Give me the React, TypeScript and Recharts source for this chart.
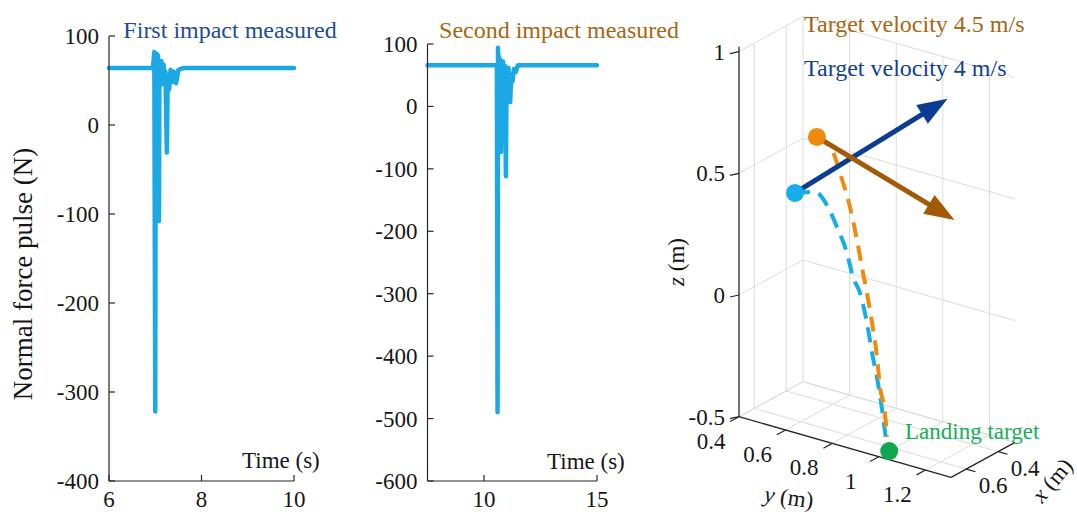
import React from "react";
import { LineChart, ComposedChart, Line, Scatter, XAxis, YAxis } from "recharts";

const FONT = '"Liberation Serif", "Times New Roman", serif';
const AXIS = "#262626";
const TEXT = "#161616";
const PULSE = "#1BA8E4";
const GRID = "#DCDCDC";

// first impact: time (s) and normal force (N)
const time1 = [6, 6.5, 6.95, 6.98, 7.0, 7.01, 7.02, 7.03, 7.05, 7.06, 7.08, 7.09, 7.11, 7.13, 7.15, 7.18, 7.2, 7.22, 7.25, 7.27, 7.3, 7.33, 7.36, 7.4, 7.45, 7.5, 7.6, 8, 9, 10];
const force1 = [64, 64, 64, 82, -322, 75, 40, 80, 50, 78, -108, 70, 45, 72, 50, 68, 45, 60, -31, 55, 40, 62, 48, 60, 47, 62, 64, 64, 64, 64];

// second impact
const time2 = [7.5, 9, 10.5, 10.57, 10.6, 10.62, 10.64, 10.66, 10.69, 10.72, 10.75, 10.78, 10.81, 10.84, 10.88, 10.92, 10.97, 11.0, 11.04, 11.08, 11.12, 11.16, 11.2, 11.26, 11.32, 11.4, 11.5, 12.5, 14, 15];
const force2 = [66, 66, 66, 64, -490, 94, 50, 80, 30, 75, -73, 70, 20, 72, 35, 65, -112, 60, 25, 62, 30, 7, 50, 40, 60, 55, 66, 66, 66, 66];

const timeTicks1 = [6, 8, 10];
const forceTicks1 = [-400, -300, -200, -100, 0, 100];
const timeTicks2 = [10, 15];
const forceTicks2 = [-600, -500, -400, -300, -200, -100, 0, 100];

// 3D panel (metres)
const xLim = [0.295, 0.695];
const yLim = [0.4, 1.31];
const zLim = [-0.5, 1.0];
const xTicks = [0.4, 0.6];
const yTicks = [0.4, 0.6, 0.8, 1, 1.2];
const zTicks = [-0.5, 0, 0.5, 1];

const trajX = 0.6;
const blueY = [0.575, 0.661, 0.712, 0.755, 0.798, 0.824, 0.854, 0.884, 0.906, 0.931, 0.949, 0.966];
const blueZ = [0.433, 0.461, 0.421, 0.343, 0.248, 0.156, 0.099, -0.017, -0.134, -0.25, -0.356, -0.475];
const orangeY = [0.669, 0.734, 0.768, 0.811, 0.841, 0.867, 0.884, 0.906, 0.927, 0.94, 0.961, 0.97];
const orangeZ = [0.689, 0.653, 0.568, 0.44, 0.313, 0.184, 0.107, -0.011, -0.144, -0.264, -0.365, -0.461];
const landing = [0.63, 1.0, -0.5];
const blueTip = [0.6, 1.23, 1.0];
const brownTip = [0.6, 1.26, 0.51];

const BLUE = "#15ADEA";
const ORANGE = "#EF8A0C";
const NAVY = "#0C3D92";
const BROWN = "#A35A06";
const GREEN = "#10A84E";

// view: screen px per metre along x and y, in px per z unit
const PX = 243.4;
const proj = (x: number, y: number, z: number) => ({
  u: (233 * (y - yLim[0]) - 160 * (x - xLim[1])) / PX,
  v: z + (-66.7 * (y - yLim[0]) - 87.5 * (x - xLim[1])) / PX,
});

const segments = (segs: number[][][]) => {
  const out: { u: number; v: number | null }[] = [];
  segs.forEach(([a, b]) => {
    const p = proj(a[0], a[1], a[2]);
    const q = proj(b[0], b[1], b[2]);
    out.push(p, q, { u: q.u, v: null });
  });
  return out;
};

const gridData = segments([
  ...yTicks.map((y) => [[xLim[0], y, zLim[0]], [xLim[1], y, zLim[0]]]),
  ...[xLim[0], ...xTicks].map((x) => [[x, yLim[0], zLim[0]], [x, yLim[1], zLim[0]]]),
  ...yTicks.map((y) => [[xLim[0], y, zLim[0]], [xLim[0], y, zLim[1]]]),
  ...zTicks.map((z) => [[xLim[0], yLim[0], z], [xLim[0], yLim[1], z]]),
  ...xTicks.map((x) => [[x, yLim[0], zLim[0]], [x, yLim[0], zLim[1]]]),
  ...zTicks.map((z) => [[xLim[0], yLim[0], z], [xLim[1], yLim[0], z]]),
]);

const axisData = segments([
  [[xLim[1], yLim[0], zLim[0]], [xLim[1], yLim[0], zLim[1] + 0.02]],
  [[xLim[1], yLim[0], zLim[0]], [xLim[1], yLim[1], zLim[0]]],
  [[xLim[1], yLim[1], zLim[0]], [xLim[0], yLim[1], zLim[0]]],
]);

const blueData = blueY.map((y, i) => proj(trajX, y, blueZ[i]));
const orangeData = orangeY.map((y, i) => proj(trajX, y, orangeZ[i]));

const dotData = [
  { ...blueData[0], fill: BLUE },
  { ...orangeData[0], fill: ORANGE },
  { ...proj(landing[0], landing[1], landing[2]), fill: GREEN },
];

const HEAD = 30;
const arrow = (start: { u: number; v: number }, tip: number[]) => {
  const t = proj(tip[0], tip[1], tip[2]);
  const ang = Math.atan2(-(t.v - start.v), t.u - start.u);
  const base = { u: t.u - (Math.cos(ang) * (HEAD - 3)) / PX, v: t.v + (Math.sin(ang) * (HEAD - 3)) / PX };
  return { shaft: [start, base], head: { ...t, ang } };
};
const blueArrow = arrow(blueData[0], blueTip);
const brownArrow = arrow(orangeData[0], brownTip);

const yLabelData = yTicks.map((y) => ({ ...proj(xLim[1], y, zLim[0]), label: String(y) }));
const xLabelData = xTicks.map((x) => ({ ...proj(x, yLim[1], zLim[0]), label: String(x) }));

const XTick = ({ x, y, payload }: any) => (
  <g>
    <line x1={x} y1={y} x2={x} y2={y - 6} stroke={AXIS} strokeWidth={1.2} />
    <text x={x} y={y + 26} textAnchor="middle" fontFamily={FONT} fontSize={23} fill={TEXT}>
      {payload.value}
    </text>
  </g>
);

const YTick = ({ x, y, payload }: any) => (
  <g>
    <line x1={x} y1={y} x2={x + 6} y2={y} stroke={AXIS} strokeWidth={1.2} />
    <text x={x - 10} y={y + 8} textAnchor="end" fontFamily={FONT} fontSize={23} fill={TEXT}>
      {payload.value}
    </text>
  </g>
);

const ZTick = ({ x, y, payload }: any) => (
  <g>
    <line x1={x} y1={y} x2={x - 9} y2={y + 2} stroke={AXIS} strokeWidth={1.2} />
    <text x={x - 14} y={y + 8} textAnchor="end" fontFamily={FONT} fontSize={23} fill={TEXT}>
      {payload.value}
    </text>
  </g>
);

function PulsePanel(props: any) {
  const { time, force, xDomain, xTicks: xt, yDomain, yTicks: yt, left, width, margin } = props;
  const data = time.map((t: number, i: number) => ({ t, f: force[i] }));
  return (
    <div style={{ position: "absolute", left, top: 0 }}>
      <LineChart width={width} height={512} data={data} margin={margin}>
        <XAxis
          type="number"
          dataKey="t"
          domain={xDomain}
          ticks={xt}
          interval={0}
          height={31}
          tickSize={0}
          tickMargin={0}
          tickLine={false}
          axisLine={{ stroke: AXIS, strokeWidth: 1.2 }}
          tick={(p: any) => <XTick {...p} />}
        />
        <YAxis
          type="number"
          domain={yDomain}
          ticks={yt}
          interval={0}
          width={100}
          tickSize={0}
          tickMargin={0}
          tickLine={false}
          axisLine={{ stroke: AXIS, strokeWidth: 1.2 }}
          tick={(p: any) => <YTick {...p} />}
        />
        <Line
          dataKey="f"
          type="linear"
          stroke={PULSE}
          strokeWidth={4.5}
          strokeLinejoin="round"
          strokeLinecap="round"
          dot={false}
          isAnimationActive={false}
        />
      </LineChart>
    </div>
  );
}

const DotShape = (p: any) => <circle cx={p.cx} cy={p.cy} r={9} fill={p.payload.fill} />;

const headShape = (color: string) => (p: any) => {
  const a = p.payload.ang;
  const c = Math.cos(a);
  const s = Math.sin(a);
  const bx = p.cx - c * HEAD;
  const by = p.cy - s * HEAD;
  const w = 11;
  const pts = `${p.cx},${p.cy} ${bx - s * w},${by + c * w} ${bx + s * w},${by - c * w}`;
  return <polygon points={pts} fill={color} />;
};

const YLabelShape = (p: any) => (
  <g>
    <line x1={p.cx} y1={p.cy} x2={p.cx - 8.8} y2={p.cy + 4.8} stroke={AXIS} strokeWidth={1.2} />
    <text x={p.cx - 28} y={p.cy + 32} textAnchor="middle" fontFamily={FONT} fontSize={23} fill={TEXT}>
      {p.payload.label}
    </text>
  </g>
);

const XLabelShape = (p: any) => (
  <g>
    <line x1={p.cx} y1={p.cy} x2={p.cx + 9.3} y2={p.cy + 2.7} stroke={AXIS} strokeWidth={1.2} />
    <text x={p.cx + 27} y={p.cy + 24} textAnchor="middle" fontFamily={FONT} fontSize={23} fill={TEXT}>
      {p.payload.label}
    </text>
  </g>
);

function TrajectoryPanel() {
  return (
    <div style={{ position: "absolute", left: 640, top: 0 }}>
      <ComposedChart width={437} height={512} margin={{ top: 2.9, right: 9.4, bottom: 10.1, left: 39 }}>
        <XAxis type="number" dataKey="u" domain={[0, 1.35]} hide height={0} />
        <YAxis
          type="number"
          dataKey="v"
          domain={[-0.85, 1.2]}
          ticks={zTicks}
          interval={0}
          width={60}
          axisLine={false}
          tickLine={false}
          tickSize={0}
          tickMargin={0}
          tick={(p: any) => <ZTick {...p} />}
        />
        <Line data={gridData} dataKey="v" type="linear" stroke={GRID} strokeWidth={1} dot={false} isAnimationActive={false} />
        <Line data={axisData} dataKey="v" type="linear" stroke={AXIS} strokeWidth={1.3} dot={false} isAnimationActive={false} />
        <Line data={blueData} dataKey="v" type="monotone" stroke={BLUE} strokeWidth={4} strokeDasharray="15 9" dot={false} isAnimationActive={false} />
        <Line data={orangeData} dataKey="v" type="monotone" stroke={ORANGE} strokeWidth={4} strokeDasharray="15 9" dot={false} isAnimationActive={false} />
        <Scatter data={dotData} shape={DotShape} isAnimationActive={false} />
        <Line data={blueArrow.shaft} dataKey="v" type="linear" stroke={NAVY} strokeWidth={5} dot={false} isAnimationActive={false} />
        <Line data={brownArrow.shaft} dataKey="v" type="linear" stroke={BROWN} strokeWidth={5} dot={false} isAnimationActive={false} />
        <Scatter data={[blueArrow.head]} shape={headShape(NAVY)} isAnimationActive={false} />
        <Scatter data={[brownArrow.head]} shape={headShape(BROWN)} isAnimationActive={false} />
        <Scatter data={yLabelData} shape={YLabelShape} isAnimationActive={false} />
        <Scatter data={xLabelData} shape={XLabelShape} isAnimationActive={false} />
      </ComposedChart>
    </div>
  );
}

export default function App() {
  return (
    <div style={{ position: "absolute", left: 0, top: 0, width: 1077, height: 512, background: "#fff", overflow: "hidden" }}>
      <PulsePanel
        time={time1}
        force={force1}
        xDomain={[6, 10]}
        xTicks={timeTicks1}
        yDomain={[-400, 100]}
        yTicks={forceTicks1}
        left={0}
        width={320}
        margin={{ top: 36, right: 26, bottom: 0, left: 9 }}
      />
      <PulsePanel
        time={time2}
        force={force2}
        xDomain={[7.5, 15]}
        xTicks={timeTicks2}
        yDomain={[-600, 100]}
        yTicks={forceTicks2}
        left={320}
        width={300}
        margin={{ top: 44, right: 23, bottom: 0, left: 7.5 }}
      />
      <TrajectoryPanel />
      <svg width={1077} height={512} style={{ position: "absolute", left: 0, top: 0, pointerEvents: "none" }} fontFamily={FONT}>
        <text x={230} y={38} textAnchor="middle" fontSize={24} fill="#1E4C9A">First impact measured</text>
        <text x={559} y={38} textAnchor="middle" fontSize={24} fill="#A8650F">Second impact measured</text>
        <text x={242} y={468} fontSize={23} fill={TEXT}>Time (s)</text>
        <text x={547} y={469} fontSize={23} fill={TEXT}>Time (s)</text>
        <text x={32} y={274} textAnchor="middle" fontSize={27} fill={TEXT} transform="rotate(-90 32 274)">
          Normal force pulse (N)
        </text>
        <text x={684} y={262} textAnchor="middle" fontSize={23} fill={TEXT} transform="rotate(-90 684 262)">
          <tspan fontStyle="italic">z</tspan> (m)
        </text>
        <text x={789} y={505} textAnchor="middle" fontSize={23} fill={TEXT} transform="rotate(8 789 497)">
          <tspan fontStyle="italic">y</tspan> (m)
        </text>
        <text x={1052} y={488} textAnchor="middle" fontSize={23} fill={TEXT} transform="rotate(-50 1052 480)">
          <tspan fontStyle="italic">x</tspan> (m)
        </text>
        <text x={905} y={439} fontSize={23} fill="#17AE57">Landing target</text>
        <text x={804} y={32} fontSize={24} fill="#A8650F">Target velocity 4.5 m/s</text>
        <text x={804} y={76} fontSize={24} fill="#123F95">Target velocity 4 m/s</text>
      </svg>
    </div>
  );
}
